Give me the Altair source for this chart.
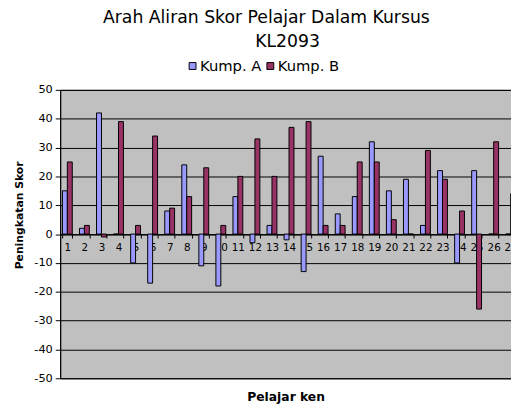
import altair as alt
import pandas as pd

students = [str(i) for i in range(1, 28)]
kump_a = [15, 2, 42, 0, -10, -17, 8, 24, -11, -18, 13, -3, 3, -2, -13, 27, 7, 13, 32, 15, 19, 3, 22, -10, 22, 0, 0]
kump_b = [25, 3, -1, 39, 3, 34, 9, 13, 23, 3, 20, 33, 20, 37, 39, 3, 3, 25, 25, 5, 0, 29, 19, 8, -26, 32, 14]
groups = ["Kump. A", "Kump. B"]
colors = ["#9999FF", "#993366"]
y_ticks = [-50, -40, -30, -20, -10, 0, 10, 20, 30, 40, 50]
title_line1 = "Arah Aliran Skor Pelajar Dalam Kursus"
title_line2 = ["KL2093"]

rows = []
for s, a, b in zip(students, kump_a, kump_b):
    rows.append({"pelajar": s, "kump": groups[0], "skor": a})
    rows.append({"pelajar": s, "kump": groups[1], "skor": b})
df = pd.DataFrame(rows)

FONT = "DejaVu Sans"

bars = alt.Chart(df).mark_bar(stroke="black", strokeWidth=1).encode(
    x=alt.X(
        "pelajar:N",
        sort=students,
        scale=alt.Scale(paddingInner=0.423, paddingOuter=0.133),
        axis=alt.Axis(
            orient="bottom",
            offset=-146.5,
            domainColor="black",
            tickColor="black",
            tickSize=4,
            tickBand="extent",
            labelAngle=0,
            labelFont=FONT,
            labelFontSize=10.5,
            labelColor="black",
            labelPadding=5,
            labelOverlap=False,
            grid=False,
            title="Pelajar ken",
            titleFont=FONT,
            titleFontSize=12.5,
            titleFontWeight="bold",
            titleColor="black",
            titleX=229,
            titleY=168.7,
            titleBaseline="alphabetic",
        ),
    ),
    xOffset=alt.XOffset("kump:N", sort=groups, scale=alt.Scale(paddingInner=0, paddingOuter=0)),
    y=alt.Y(
        "skor:Q",
        scale=alt.Scale(domain=[-50, 50], nice=False, zero=False),
        axis=alt.Axis(
            values=y_ticks,
            labelExpr="toString(datum.value)",
            domainColor="black",
            tickColor="black",
            tickSize=5,
            labelFont=FONT,
            labelFontSize=11.5,
            labelColor="black",
            labelPadding=3,
            grid=True,
            gridColor="black",
            gridOpacity=1,
            gridWidth=1,
            title="Peningkatan Skor",
            titleFont=FONT,
            titleFontSize=11,
            titleFontWeight="bold",
            titleColor="black",
            titleAngle=270,
            titleX=-41,
            titleY=127,
            titleAlign="center",
            titleBaseline="middle",
        ),
    ),
    color=alt.Color(
        "kump:N",
        sort=groups,
        scale=alt.Scale(domain=groups, range=colors),
        legend=alt.Legend(
            orient="none",
            legendX=127,
            legendY=-32,
            direction="horizontal",
            title=None,
            symbolType="square",
            symbolSize=49,
            symbolStrokeColor="black",
            symbolStrokeWidth=1,
            symbolOpacity=1,
            labelFont=FONT,
            labelFontSize=15,
            labelColor="black",
            labelOffset=0,
            columnPadding=1,
            padding=0,
            symbolOffset=0,
        ),
    ),
)

subtitle = alt.Chart(pd.DataFrame({"t": title_line2})).mark_text(
    font=FONT, fontSize=17.5, color="black", align="center", baseline="alphabetic"
).encode(
    text="t:N",
    x=alt.value(231),
    y=alt.value(-43.5),
)

chart = alt.layer(bars, subtitle).properties(
    width=465,
    height=293,
    autosize=alt.AutoSizeParams(type="none"),
    padding={"left": 53, "top": 80, "right": -7, "bottom": 27},
    background="white",
    title=alt.TitleParams(
        text=title_line1,
        font=FONT,
        fontSize=17.5,
        fontWeight="normal",
        color="black",
        anchor="middle",
        dx=-23,
        offset=0,
        dy=-6.5,
    ),
).configure_view(fill="#C0C0C0", stroke="black")

chart.save("out.html", embed_options={"renderer": "svg", "actions": False})
